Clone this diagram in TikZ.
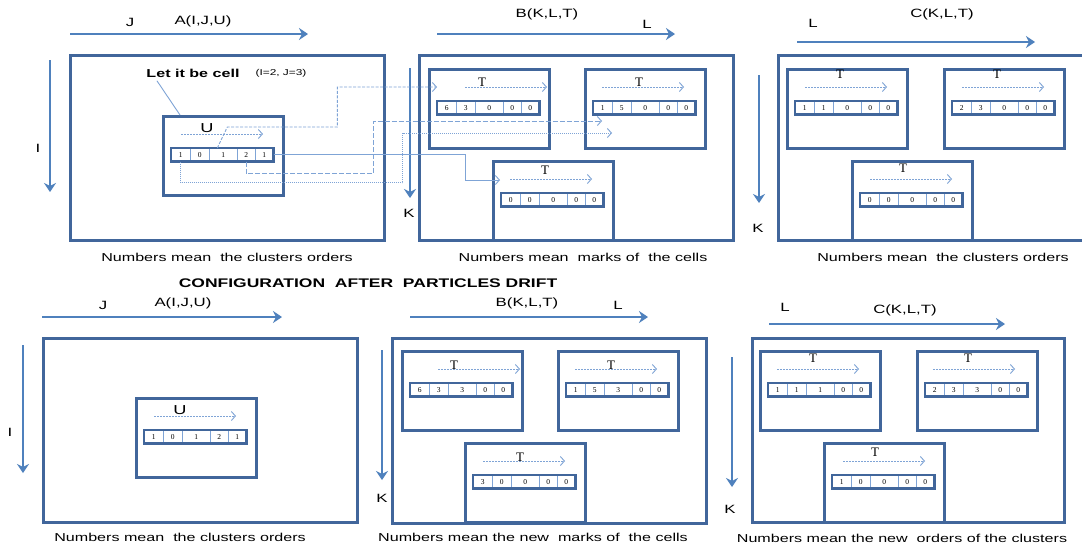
\documentclass[tikz,border=0pt]{standalone}
\usepackage{fontspec}
\setmainfont{Liberation Sans}[FakeStretch=1.4]
\newfontfamily\cfserif{Liberation Serif}
\usetikzlibrary{arrows.meta,positioning}
\definecolor{cfbox} {HTML}{41669B}
\definecolor{cfaxis}{HTML}{4F81BD}
\definecolor{cflink}{HTML}{7FA4D6}

% one row of five cells: name, x, y, values
\newcommand\cellrow[4]{%
  \foreach \v [count=\i] in {#4} {
    \pgfmathsetmacro{\cellx}{{0,19,38,66,84}[\i-1]}
    \pgfmathsetmacro{\cellw}{{19,19,28,18,18}[\i-1]}
    \node[cell, minimum width=\cellw pt] (#1-\i) at (#2+\cellx,#3) {\v};
  }
  \draw[rowframe] (#1-1.north west) rectangle (#1-5.south east);
}
% small box: name, x, y, letter, letter dx, letter dy, arrow dx, values
\newcommand\subbox[8]{%
  \node[subframe] (#1) at (#2,#3) {};
  \node[font=\cfserif\fontsize{13}{13}\selectfont] (#1-t) at (#2+#5,#3+#6) {#4};
  \draw[tarrow] (#2+#7,#3+19) -- ++(82,0);
  \cellrow{#1}{#2+9}{#3+33}{#8}
}

\begin{document}
\begin{tikzpicture}[x=1pt, y=-1pt,
    frame/.style={draw=cfbox, line width=2.8pt, anchor=north west, inner sep=0pt},
    subframe/.style={draw=cfbox, line width=2.6pt, minimum width=120pt,
      minimum height=79pt, anchor=north west, inner sep=0pt},
    cell/.style={draw=cflink, line width=0.6pt, minimum height=13pt, inner sep=0pt,
      anchor=north west, font=\cfserif\fontsize{7.5}{7.5}\selectfont},
    rowframe/.style={draw=cfbox, line width=2.6pt},
    axis/.style={draw=cfaxis, line width=2.6pt,
      -{Stealth[length=9pt,width=12pt,inset=3pt]}},
    tarrow/.style={draw=cflink, line width=0.9pt, dash pattern=on 2pt off 1pt,
      -{Straight Barb[length=4pt,width=9pt]}},
    link/.style={draw=cflink, line width=0.9pt},
    linkto/.style={link, -{Straight Barb[length=4pt,width=9pt]}},
    lbl/.style={font=\fontsize{12}{12}\selectfont},
    caption/.style={font=\fontsize{11.5}{11.5}\selectfont}]
  \fill[white] (0,0) rectangle (1082,550);
  \useasboundingbox (0,0) rectangle (1082,550);

  % ---- before the drift ----
  \node[frame, minimum width=314pt, minimum height=185pt] (Atop) at (69,54) {};
  \node[frame, minimum width=314pt, minimum height=185pt] (Btop) at (418,54) {};
  \node[frame, minimum width=308pt, minimum height=185pt] (Ctop) at (777,54) {};

  \draw[axis] (70,34) -- (308,34);
  \draw[axis] (50,60) -- (50,192);
  \node[lbl] (jA) at (130,22) {J};
  \node[lbl] (nameA) at (203,21) {A(I,J,U)};
  \node[lbl] (iA) at (38,148) {I};

  \draw[axis] (437,34) -- (675,34);
  \draw[axis] (410,68) -- (410,198);
  \node[lbl] (nameB) at (547,14) {B(K,L,T)};
  \node[lbl] (lB) at (647,24) {L};
  \node[lbl] (kB) at (409,213) {K};

  \draw[axis] (797,42) -- (1035,42);
  \draw[axis] (759,75) -- (759,203);
  \node[lbl] (nameC) at (942,14) {C(K,L,T)};
  \node[lbl] (lC) at (813,23) {L};
  \node[lbl] (kC) at (758,228) {K};

  \subbox{ua}{162}{115}{\rmfamily U}{45}{13}{19}{1,0,1,2,1}
  \node[font=\bfseries\fontsize{11.5}{11.5}\selectfont] (letcell) at (193,73) {Let it be cell};
  \node[font=\fontsize{8.5}{8.5}\selectfont] (cellij) at (281,73) {(I=2, J=3)};
  \draw[link] ([xshift=14pt]letcell.south west) -- ([xshift=18pt]ua.north west);

  \subbox{tb1}{428}{68}{T}{54}{14}{37}{6,3,0,0,0}
  \subbox{tb2}{584}{68}{T}{55}{14}{18}{1,5,0,0,0}
  \subbox{tb3}{492}{160}{T}{53}{10}{18}{0,0,0,0,0}

  \subbox{tc1}{786}{68}{T}{54}{6}{19}{1,1,0,0,0}
  \subbox{tc2}{943}{68}{T}{54}{6}{19}{2,3,0,0,0}
  \subbox{tc3}{851}{160}{T}{52}{8}{19}{0,0,0,0,0}

  % where the cell of A points into B
  \coordinate (tb1in)  at (437,87);
  \coordinate (tb2in)  at (602,121);
  \coordinate (tb2inb) at (612,133);
  \coordinate (tb3in)  at (500,180);
  \draw[linkto, dash pattern=on 3pt off 1.5pt] (ua-3.north) ++(-6,0) -- ++(10,-21) -- ++(110,0) |- (tb1in);
  \draw[linkto] (ua-5.east) -- ++(192,0) |- (tb3in);
  \draw[linkto, dash pattern=on 5pt off 2pt] (ua-4.south) -- ++(0,12) -- ++(127,0) |- (tb2in);
  \draw[linkto, dash pattern=on 1pt off 1pt] (ua-1.south) -- ++(0,21) -- ++(222,0) |- (tb2inb);

  \node[caption] (capA) at (227,257) {Numbers mean\ \ the clusters orders};
  \node[caption] (capB) at (583,257) {Numbers mean\ \ marks of\ \ the cells};
  \node[caption] (capC) at (943,257) {Numbers mean\ \ the clusters orders};

  \node[font=\bfseries\fontsize{12.5}{12.5}\selectfont] (title) at (368,283)
    {CONFIGURATION\ \ AFTER\ \ PARTICLES DRIFT};

  % ---- after the drift ----
  \node[frame, minimum width=314pt, minimum height=184pt] (Abot) at (42,337) {};
  \node[frame, minimum width=314pt, minimum height=185pt] (Bbot) at (391,337) {};
  \node[frame, minimum width=312pt, minimum height=184pt] (Cbot) at (751,337) {};

  \draw[axis] (42,317) -- (282,317);
  \draw[axis] (23,345) -- (23,473);
  \node[lbl] (jA2) at (103,305) {J};
  \node[lbl] (nameA2) at (183,303) {A(I,J,U)};
  \node[lbl] (iA2) at (10,432) {I};

  \draw[axis] (410,317) -- (648,317);
  \draw[axis] (382,350) -- (382,480);
  \node[lbl] (nameB2) at (527,303) {B(K,L,T)};
  \node[lbl] (lB2) at (618,305) {L};
  \node[lbl] (kB2) at (382,498) {K};

  \draw[axis] (769,324) -- (1005,324);
  \draw[axis] (732,357) -- (732,487);
  \node[lbl] (lC2) at (785,307) {L};
  \node[lbl] (nameC2) at (905,310) {C(K,L,T)};
  \node[lbl] (kC2) at (730,509) {K};

  \subbox{ub}{135}{397}{\rmfamily U}{45}{13}{19}{1,0,1,2,1}

  \subbox{bb1}{401}{350}{T}{53}{15}{37}{6,3,3,0,0}
  \subbox{bb2}{557}{350}{T}{54}{15}{18}{1,5,3,0,0}
  \subbox{bb3}{464}{442}{T}{56}{15}{19}{3,0,0,0,0}

  \subbox{bc1}{759}{350}{T}{54}{8}{18}{1,1,1,0,0}
  \subbox{bc2}{916}{350}{T}{52}{8}{17}{2,3,3,0,0}
  \subbox{bc3}{823}{442}{T}{52}{10}{20}{1,0,0,0,0}

  \node[caption] (capA2) at (180,537) {Numbers mean\ \ the clusters orders};
  \node[caption] (capB2) at (533,537) {Numbers mean the new\ \ marks of\ \ the cells};
  \node[caption] (capC2) at (902,538) {Numbers mean the new\ \ orders of the clusters};
\end{tikzpicture}
\end{document}
